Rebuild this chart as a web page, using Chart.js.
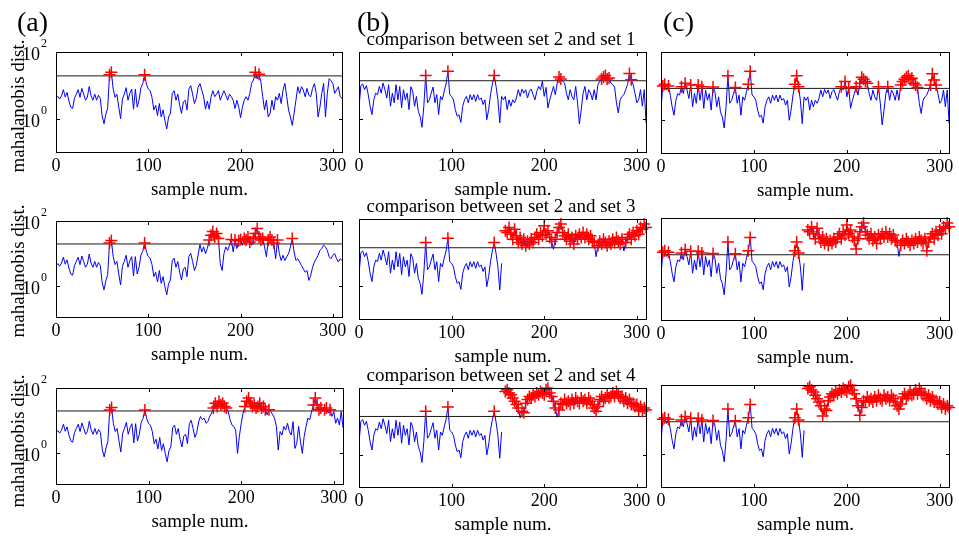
<!DOCTYPE html>
<html>
<head>
<meta charset="utf-8">
<script src="https://cdn.jsdelivr.net/npm/chart.js@4.4.0/dist/chart.umd.min.js"></script>
<style>
  html, body { margin: 0; padding: 0; background: #fff; }
  #wrap { position: relative; width: 959px; height: 542px; overflow: hidden; background: #fff; }
  canvas { position: absolute; }
  .lbl { position: absolute; font-family: "Liberation Serif", "Times New Roman", serif; color: #000; white-space: nowrap; line-height: 1; }
  .ylab { position: absolute; font-family: "Liberation Serif", "Times New Roman", serif; font-size: 19px; color: #000; white-space: nowrap; line-height: 1;
          transform: translate(-50%, -50%) rotate(-90deg); }
</style>
</head>
<body>
<div id="wrap"></div>
<script>
// ---------------- data (mahalanobis distance, one value every 2 samples) ----------------
const sampleStep = 2;
const xTicks = [0, 100, 200, 300];
const xMax = 311;

// column (a): samples 0..154 shared by the three rows
const aBase = [4.2, 4.8, 4.0, 5.0, 7.6, 4.6, 6.3, 3.5, 2.3, 2.1,
  4.2, 5.6, 7.6, 4.5, 8.3, 5.6, 3.7, 4.6, 9.5, 5.0,
  3.7, 5.6, 3.7, 5.2, 4.2, 1.26, 0.74, 1.4, 2.2, 21,
  25, 7.9, 4.5, 5.6, 2.3, 1.05, 4.0, 5.6, 8.7, 3.7,
  5.9, 7.9, 2.0, 7.9, 2.3, 3.7, 8.7, 11.5, 21, 11.2,
  7.9, 7.1, 4.5, 1.9, 2.6, 1.3, 2.95, 1.17, 1.9, 0.93,
  0.52, 1.17, 1.5, 5.9, 7.1, 3.7, 5.6, 2.6, 1.5, 3.3,
  3.7, 1.9, 7.9, 10, 5.6, 2.95, 4.2, 8.9];
// column (a): samples 156..310
const aTail1 = [11.5, 7.4, 4.7, 2.0, 3.5, 2.0, 4.7, 7.1, 4.7, 5.6,
  7.1, 3.7, 5.2, 7.1, 5.2, 3.7, 5.6, 4.7, 3.7, 2.1,
  3.7, 2.3, 1.12, 2.3, 3.7, 4.7, 3.7, 5.9, 11.7, 14.8,
  25, 15.8, 22, 13.2, 4.7, 1.9, 3.7, 1.17, 1.5, 3.7,
  1.9, 4.7, 3.7, 5.9, 2.95, 7.4, 11.7, 4.7, 1.9, 1.17,
  0.66, 1.5, 3.7, 9.3, 5.9, 9.3, 7.4, 4.7, 8.3, 5.2,
  4.7, 8.3, 11.5, 5.9, 1.17, 2.3, 5.9, 11.7, 1.17, 5.9,
  16.2, 14.1, 11.5, 5.9, 7.4, 9.3, 4.7, 4.2];
const aTail2 = [18.6, 11, 15.8, 9.8, 14.1, 25.7, 36, 47, 32, 41,
  29, 4.8, 2.95, 9.8, 15.8, 12.3, 17.8, 27, 11, 25.7,
  14.1, 24.5, 27, 17.8, 29, 25.7, 32, 22.4, 17.8, 29,
  41, 59, 32, 25.7, 29, 15.8, 7.8, 25.7, 32, 25.7,
  21, 6.8, 25.7, 9.8, 6.0, 8.7, 6.0, 7.8, 9.8, 15.8,
  29, 11, 6.0, 6.8, 5.4, 4.2, 3.3, 2.6, 2.95, 1.45,
  2.04, 3.7, 5.4, 6.8, 8.7, 12.3, 14.1, 17.8, 15.8, 12.3,
  7.8, 6.8, 8.7, 9.8, 6.8, 5.4, 6.8, 6.0];
const aTail3 = [13.2, 10.5, 11.7, 8.1, 9.1, 13.2, 16.6, 24, 34, 27,
  39, 30, 34, 27, 24, 18.6, 10.5, 7.2, 6.5, 5.0,
  0.95, 3.2, 8.1, 16.6, 27, 39, 49, 34, 27, 30,
  24, 27, 34, 24, 27, 21.4, 14.8, 21.4, 18.6, 14.8,
  11.7, 6.5, 1.2, 4.5, 3.5, 6.5, 5.0, 8.1, 4.5, 3.5,
  9.1, 1.35, 1.95, 6.5, 2.2, 0.95, 3.2, 6.5, 11.7, 10.5,
  18.6, 30, 49, 30, 21.4, 24, 18.6, 21.4, 24, 16.6,
  21.4, 13.2, 18.6, 8.1, 11.7, 7.2, 18.6, 5.8];

// columns (b) and (c): set 2 samples 0..154
const bcBase = [2.2, 10, 11.2, 7.6, 10, 5.4, 2.45, 1.38, 3.8, 6.0,
  5.4, 9.5, 6.0, 12, 7.6, 4.3, 10.7, 2.45, 6.0, 3.1,
  10.7, 3.8, 9.5, 2.2, 7.6, 3.8, 6.0, 1.95, 9.3, 6.8,
  2.45, 4.8, 1.74, 1.23, 0.58, 2.45, 20, 3.1, 3.8, 6.0,
  9.1, 3.1, 5.4, 1.38, 4.8, 3.8, 6.8, 11.2, 27, 5.4,
  4.8, 3.8, 1.95, 1.23, 1.38, 0.81, 2.45, 3.8, 4.8, 3.1,
  5.4, 3.8, 5.4, 3.4, 5.4, 3.8, 4.3, 2.75, 3.8, 0.98,
  1.95, 5.4, 11.2, 20, 9.5, 3.8, 0.78, 4.8];
// compared set, samples 156..310 (null = break in the line)
const set1Tail = [3.8, 4.8, 1.95, 3.8, 2.45, 3.8, 3.1, 4.3, 7.6, 4.8,
  7.9, 6.0, 7.6, 4.3, 6.8, 7.9, 5.4, 3.8, 6.8, 9.5,
  7.6, 13.5, 4.8, 8.9, 2.2, 3.8, 6.0, 9.5, 5.4, 12,
  18, 15.8, 13.5, 12, 6.0, 3.8, 7.6, 4.8, 3.8, 9.5,
  3.1, 0.72, 1.95, 6.0, 9.5, 3.8, 7.6, 6.0, 3.8, 7.6,
  3.8, 10.7, 13.5, 15.8, 18, 20, 15.8, 17, 12, 10.7,
  9.1, 3.1, 1.55, 3.8, 4.8, 5.4, 7.6, 10.7, 23, 15.1,
  10.7, 6.0, 3.1, 3.8, 7.6, 2.45, 7.6, 0.78];
const set3Tail = [null, 45, 40, 56, 35, 25, 50, 32, 20, 28,
  18, 25, 16, 22, 18, 25, 20, 28, 35, 25,
  40, 32, 63, 35, 45, 28, 22, 12.6, 25, 40,
  56, 71, 40, 32, 25, 35, 22, 28, 18, 32,
  25, 35, 28, 40, 28, 35, 25, 32, 22, 20,
  7.6, 16, 22, 18, 25, 20, 16, 22, 18, 25,
  20, 28, 22, 18, 25, 11.2, 20, 28, 35, 25,
  40, 32, 45, 35, 56, 50, 71, 56];
const set4Tail = [null, 79, 89, 71, 63, 50, 40, 32, 25, 12.6,
  20, 18, 35, 45, 56, 50, 63, 56, 71, 63,
  79, 71, 63, 89, 99, 71, 56, 40, 25, 13.2,
  22, 35, 32, 45, 35, 40, 32, 45, 35, 50,
  40, 35, 50, 40, 45, 35, 50, 40, 32, 25,
  20, 28, 45, 56, 40, 50, 63, 50, 56, 71,
  56, 79, 63, 50, 56, 40, 50, 35, 45, 32,
  35, 28, 32, 22, 28, 20, 25, 22];

const thresholdA = 19.5;
const thresholdB = 14;
const thresholdC = 8.5;
const titles = ['comparison between set 2 and set 1', 'comparison between set 2 and set 3', 'comparison between set 2 and set 4'];
const panelLetters = ['(a)', '(b)', '(c)'];
const yAxisLabel = 'mahalanobis dist.';
const xAxisLabel = 'sample num.';

// ---------------- layout ----------------
const PL = 60, PT = 30, PR = 20, PB = 55;
const FONT = '"Liberation Serif", "Times New Roman", serif';

const panels = [
  { base: aBase, tail: aTail1, thr: thresholdA, box: [56, 52, 343, 153], yLab: true },
  { base: aBase, tail: aTail2, thr: thresholdA, box: [56, 221, 343, 318], yLab: true },
  { base: aBase, tail: aTail3, thr: thresholdA, box: [56, 388, 344, 485], yLab: true },
  { base: bcBase, tail: set1Tail, thr: thresholdB, box: [359, 52, 647, 153], title: titles[0] },
  { base: bcBase, tail: set3Tail, thr: thresholdB, box: [359, 219, 647, 320], title: titles[1] },
  { base: bcBase, tail: set4Tail, thr: thresholdB, box: [359, 388, 647, 488], title: titles[2] },
  { base: bcBase, tail: set1Tail, thr: thresholdC, box: [661, 52, 950, 154] },
  { base: bcBase, tail: set3Tail, thr: thresholdC, box: [661, 218, 950, 321] },
  { base: bcBase, tail: set4Tail, thr: thresholdC, box: [661, 385, 950, 488] }
];

const framePlugin = {
  id: 'frame',
  afterDatasetsDraw(chart, args, opts) {
    const { ctx, chartArea: ca, scales } = chart;
    const x = scales.x, y = scales.y;
    ctx.save();
    ctx.strokeStyle = '#000';
    ctx.lineWidth = 1;
    ctx.strokeRect(ca.left + 0.5, ca.top + 0.5, ca.width - 1, ca.height - 1);
    ctx.beginPath();
    xTicks.forEach(v => {
      const px = Math.round(x.getPixelForValue(v)) + 0.5;
      ctx.moveTo(px, ca.bottom); ctx.lineTo(px, ca.bottom - 4);
      ctx.moveTo(px, ca.top); ctx.lineTo(px, ca.top + 4);
    });
    [1].forEach(v => {
      const py = Math.round(y.getPixelForValue(v)) + 0.5;
      ctx.moveTo(ca.left, py); ctx.lineTo(ca.left + 4, py);
      ctx.moveTo(ca.right, py); ctx.lineTo(ca.right - 4, py);
    });
    ctx.stroke();
    ctx.fillStyle = '#000';
    ctx.font = '18px ' + FONT;
    ctx.textAlign = 'center';
    ctx.textBaseline = 'alphabetic';
    xTicks.forEach(v => ctx.fillText(String(v), x.getPixelForValue(v), ca.bottom + 18));
    ctx.font = '19px ' + FONT;
    ctx.fillText(xAxisLabel, (ca.left + ca.right) / 2, ca.bottom + 42);
    if (opts.title) {
      ctx.fillText(opts.title, (ca.left + ca.right) / 2 - 2, ca.top - 7);
    }
    if (opts.yLab) {
      [[100, '2'], [1, '0']].forEach(([v, e]) => {
        const py = y.getPixelForValue(v);
        ctx.font = '18px ' + FONT;
        ctx.textAlign = 'right';
        ctx.fillText('10', ca.left - 16, py + 8);
        ctx.font = '12px ' + FONT;
        ctx.textAlign = 'left';
        ctx.fillText(e, ca.left - 15, py - 5);
      });
    }
    ctx.restore();
  }
};

const wrap = document.getElementById('wrap');

panels.forEach(p => {
  const [l, t, r, b] = p.box;
  const cv = document.createElement('canvas');
  const w = (r - l) + PL + PR, h = (b - t) + PT + PB;
  cv.width = w; cv.height = h;
  cv.style.left = (l - PL) + 'px';
  cv.style.top = (t - PT) + 'px';
  cv.style.width = w + 'px'; cv.style.height = h + 'px';
  wrap.appendChild(cv);

  const values = p.base.concat(p.tail);
  const pts = values.map((v, i) => ({ x: i * sampleStep, y: v }));
  const over = pts.filter(q => q.y !== null && q.y > p.thr);
  const thrLine = [{ x: 0, y: p.thr }, { x: xMax, y: p.thr }];

  new Chart(cv, {
    type: 'line',
    data: {
      datasets: [
        { data: over, showLine: false, pointStyle: 'cross', pointRadius: 6, pointBorderWidth: 1.5,
          pointBorderColor: '#ff0000', borderColor: '#ff0000', pointBackgroundColor: '#ff0000', clip: false },
        { data: thrLine, borderColor: '#1a1a1a', borderWidth: 1, pointRadius: 0 },
        { data: pts, borderColor: '#0000ff', borderWidth: 1, pointRadius: 0, tension: 0, spanGaps: false }
      ]
    },
    options: {
      responsive: false,
      animation: false,
      events: [],
      devicePixelRatio: 1,
      layout: { padding: { left: PL, top: PT, right: PR, bottom: PB } },
      scales: {
        x: { type: 'linear', min: 0, max: xMax, display: false },
        y: { type: 'logarithmic', min: 0.1, max: 100, display: false }
      },
      plugins: {
        legend: { display: false },
        tooltip: { enabled: false },
        frame: { title: p.title || null, yLab: !!p.yLab }
      }
    },
    plugins: [framePlugin]
  });
});

// panel letters
const letterPos = [[17, 8], [357, 8], [663, 8]];
panelLetters.forEach((s, i) => {
  const d = document.createElement('div');
  d.className = 'lbl';
  d.style.fontSize = '28px';
  d.style.left = letterPos[i][0] + 'px';
  d.style.top = letterPos[i][1] + 'px';
  d.textContent = s;
  wrap.appendChild(d);
});
// y-axis labels
[[17, 106], [17, 271], [17, 441]].forEach(([cx, cy]) => {
  const d = document.createElement('div');
  d.className = 'ylab';
  d.style.left = cx + 'px';
  d.style.top = cy + 'px';
  d.textContent = yAxisLabel;
  wrap.appendChild(d);
});
</script>
</body>
</html>
